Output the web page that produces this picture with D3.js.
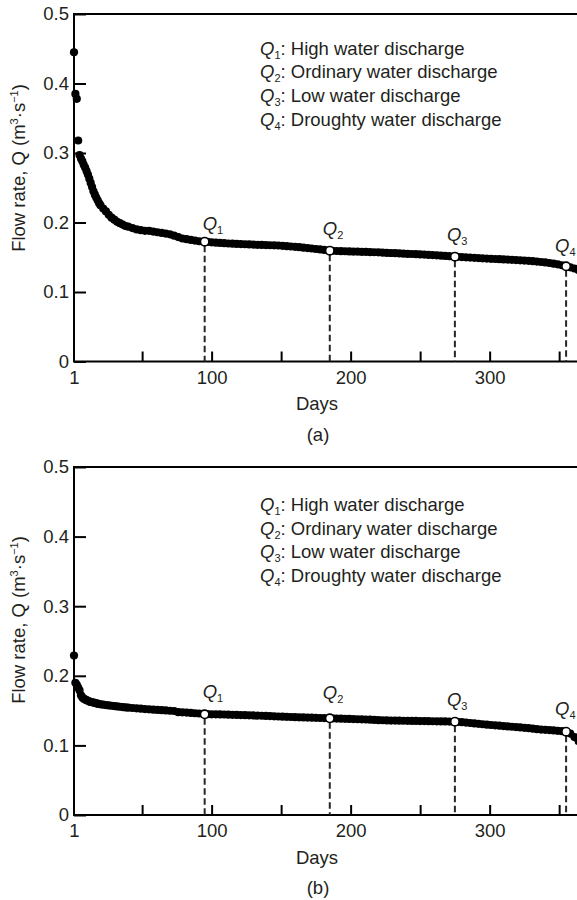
<!DOCTYPE html>
<html>
<head>
<meta charset="utf-8">
<script src="https://cdn.jsdelivr.net/npm/d3@7"></script>
<style>
    body { margin: 0; background: #fff; }
    svg text { font-family: Arial, "Liberation Sans", sans-serif; fill: #231f20; }
</style>
</head>
<body>
<svg id="canvas" width="577" height="900"></svg>
<script>
// day of the year (sorted flow duration curve)
let days = [
    1, 2, 3, 4, 5, 6, 7, 8, 9, 10, 11, 12, 13, 14, 15, 16, 17, 18, 19, 20,
    22, 24, 26, 28, 30, 32, 34, 36, 38, 40,
    43, 46, 49, 52, 55, 58, 61, 64, 67, 70, 73, 76, 79, 82, 85, 88, 91, 94, 97,
    100, 103, 106, 109, 112, 115, 118, 121, 124, 127, 130, 133, 136, 139, 142, 145, 148,
    151, 154, 157, 160, 163, 166, 169, 172, 175, 178, 181, 184, 187, 190, 193, 196, 199,
    202, 205, 208, 211, 214, 217, 220, 223, 226, 229, 232, 235, 238, 241, 244, 247, 250,
    253, 256, 259, 262, 265, 268, 271, 274, 277, 280, 283, 286, 289, 292, 295, 298, 301,
    304, 307, 310, 313, 316, 319, 322, 325, 328, 331, 334, 337, 340, 343, 346, 349, 352,
    355, 358, 361, 364
];

// panel (a) flow rate, m3/s
let flowA = [
    .445, .385, .378, .318, .297, .292, .288, .283, .279, .274, .269, .263, .257, .251, .245, .240, .236, .232, .228, .225,
    .220, .216, .211, .207, .204, .201, .199, .197, .195, .194,
    .192, .190, .189, .188, .188, .187, .186, .185, .184, .183, .181, .179, .177, .176, .175, .174, .173, .1725, .172,
    .1715, .1710, .1706, .1702, .1698, .1695, .1692, .1690, .1687, .1684, .1682, .1679, .1677, .1675, .1673, .1671, .1669,
    .1665, .1660, .1655, .1650, .1645, .1638, .1632, .1626, .1619, .1612, .1605, .1597, .1592, .1590, .1588, .1586, .1584,
    .1582, .1580, .1578, .1576, .1574, .1572, .1570, .1567, .1564, .1561, .1558, .1556, .1553, .1550, .1547, .1544, .1541,
    .1538, .1534, .1531, .1527, .1523, .1519, .1515, .1510, .1506, .1502, .1499, .1495, .1492, .1488, .1485, .1481, .1478,
    .1475, .1472, .1469, .1466, .1463, .1460, .1456, .1452, .1448, .1443, .1438, .1432, .1425, .1417, .1408, .1398, .1385,
    .1370, .1355, .1338, .1315
];

// panel (b) flow rate, m3/s
let flowB = [
    .229, .190, .187, .183, .179, .172, .169, .167, .166, .165, .164, .163, .1625, .162, .1615, .161, .1605, .160, .1595, .159,
    .1585, .158, .1575, .157, .1565, .156, .1555, .155, .1546, .1542,
    .1537, .1532, .1527, .1522, .1518, .1514, .1510, .1506, .1502, .1498, .1494, .1478, .1475, .1471, .1467, .1462, .1458, .1453, .1449,
    .1447, .1446, .1445, .1444, .1442, .1440, .1438, .1436, .1434, .1432, .1430, .1428, .1426, .1424, .1421, .1418, .1415,
    .1412, .1410, .1408, .1406, .1404, .1402, .1400, .1398, .1396, .1394, .1392, .1390, .1388, .1386, .1384, .1382, .1380,
    .1378, .1376, .1374, .1372, .1369, .1366, .1363, .1361, .1359, .1357, .1356, .1355, .1354, .1353, .1352, .1351, .1350,
    .1349, .1348, .1347, .1346, .1345, .1344, .1342, .1340, .1337, .1333, .1328, .1322, .1316, .1310, .1304, .1298, .1293,
    .1288, .1283, .1278, .1273, .1268, .1263, .1258, .1253, .1247, .1240, .1233, .1228, .1224, .1220, .1215, .1210, .1204,
    .1196, .1170, .1120, .1060
];

let qDays = [95, 185, 275, 355];
let qFlowA = [0.1724, 0.1594, 0.1508, 0.1370];
let qFlowB = [0.1447, 0.1389, 0.1341, 0.1197];
let qNames = ['High water discharge', 'Ordinary water discharge', 'Low water discharge', 'Droughty water discharge'];

let yTicks = [0, 0.1, 0.2, 0.3, 0.4, 0.5];
let xTickLabels = [1, 100, 200, 300];
let xTickMarks = [50, 100, 150, 200, 250, 300, 350];

console.log('lengths', days.length, flowA.length, flowB.length);

let canvas = d3.select('#canvas');

// layout of the two panels
let panels = [
    { flow: flowA, qFlow: qFlowA, name: '(a)', top: 14, bottom: 361.5, legendY: 54.5, daysY: 410, capY: 441, yLabelY: 168, qDy: [-12, -16, -16, -14] },
    { flow: flowB, qFlow: qFlowB, name: '(b)', top: 467, bottom: 815, legendY: 511, daysY: 864, capY: 894, yLabelY: 620, qDy: [-16, -19, -16, -17] }
];
let qDx = [-2, -7, -8, -11];
let fontSize = 18.5;

let xScale = d3.scaleLinear().domain([1, 365]).range([74, 580]);

let drawPanel = (panel) => {
    let yScale = d3.scaleLinear().domain([0, 0.5]).range([panel.bottom, panel.top]);
    let g = canvas.append('g');

    // frame
    g.append('rect')
        .attr('x', xScale(1))
        .attr('y', panel.top)
        .attr('width', xScale(365) - xScale(1))
        .attr('height', panel.bottom - panel.top)
        .attr('fill', 'none')
        .attr('stroke', '#000')
        .attr('stroke-width', 2);

    // y axis, ticks pointing inward
    let yAxis = g.append('g')
        .attr('transform', `translate(${xScale(1)},0)`)
        .call(d3.axisLeft(yScale)
            .tickValues(yTicks)
            .tickSize(-12)
            .tickPadding(5)
            .tickFormat(d => d === 0 ? '0' : d3.format('.1f')(d)));
    yAxis.select('.domain').remove();

    // x axis tick marks
    let xMarks = g.append('g')
        .attr('transform', `translate(0,${panel.bottom})`)
        .call(d3.axisBottom(xScale).tickValues(xTickMarks).tickSize(-10).tickFormat(''));
    xMarks.select('.domain').remove();

    // x axis labels
    let xLabels = g.append('g')
        .attr('transform', `translate(0,${panel.bottom})`)
        .call(d3.axisBottom(xScale).tickValues(xTickLabels).tickSize(0).tickPadding(9));
    xLabels.select('.domain').remove();

    g.selectAll('.tick line').attr('stroke', '#000').attr('stroke-width', 2);
    g.selectAll('.tick text')
        .attr('font-size', fontSize)
        .attr('font-family', 'Arial, "Liberation Sans", sans-serif')
        .style('fill', '#231f20');

    // dots
    g.append('g')
        .selectAll('circle')
        .data(days)
        .enter()
        .append('circle')
        .attr('cx', d => xScale(d))
        .attr('cy', (d, i) => yScale(panel.flow[i]))
        .attr('r', 4.1)
        .attr('fill', '#000');

    // dashed drop lines
    g.append('g')
        .selectAll('line')
        .data(qDays)
        .enter()
        .append('line')
        .attr('x1', d => xScale(d))
        .attr('x2', d => xScale(d))
        .attr('y1', (d, i) => yScale(panel.qFlow[i]) + 4)
        .attr('y2', yScale(0))
        .attr('stroke', '#2b2522')
        .attr('stroke-width', 2)
        .attr('stroke-dasharray', '6.5,3.5');

    // open circles
    g.append('g')
        .selectAll('circle')
        .data(qDays)
        .enter()
        .append('circle')
        .attr('cx', d => xScale(d))
        .attr('cy', (d, i) => yScale(panel.qFlow[i]))
        .attr('r', 4.2)
        .attr('fill', '#fff')
        .attr('stroke', '#000')
        .attr('stroke-width', 1.6);

    // Q labels above the circles
    let qLab = g.append('g')
        .selectAll('text')
        .data(qDays)
        .enter()
        .append('text')
        .attr('x', (d, i) => xScale(d) + qDx[i])
        .attr('y', (d, i) => yScale(panel.qFlow[i]) + panel.qDy[i])
        .attr('font-size', fontSize);
    qLab.append('tspan').attr('font-style', 'italic').text('Q');
    qLab.append('tspan').attr('font-size', 11).attr('dy', 4).text((d, i) => i + 1);

    // legend
    let leg = g.append('g')
        .selectAll('text')
        .data(qNames)
        .enter()
        .append('text')
        .attr('x', 260)
        .attr('y', (d, i) => panel.legendY + i * 23.7)
        .attr('font-size', fontSize);
    leg.append('tspan').attr('font-style', 'italic').text('Q');
    leg.append('tspan').attr('font-size', 11).attr('dy', 4).text((d, i) => i + 1);
    leg.append('tspan').attr('dy', -4).text(d => ': ' + d);

    // axis titles
    g.append('text')
        .attr('x', 317)
        .attr('y', panel.daysY)
        .attr('text-anchor', 'middle')
        .attr('font-size', fontSize)
        .text('Days');

    g.append('text')
        .attr('x', 318)
        .attr('y', panel.capY)
        .attr('text-anchor', 'middle')
        .attr('font-size', fontSize)
        .text(panel.name);

    let yTitle = g.append('text')
        .attr('transform', `translate(25,${panel.yLabelY}) rotate(-90)`)
        .attr('text-anchor', 'middle')
        .attr('font-size', fontSize);
    yTitle.append('tspan').text('Flow rate, Q (m');
    yTitle.append('tspan').attr('font-size', 11).attr('dy', -7).text('3');
    yTitle.append('tspan').attr('dy', 7).text('·s');
    yTitle.append('tspan').attr('font-size', 11).attr('dy', -7).text('−1');
    yTitle.append('tspan').attr('dy', 7).text(')');
};

panels.forEach(drawPanel);
</script>
</body>
</html>
